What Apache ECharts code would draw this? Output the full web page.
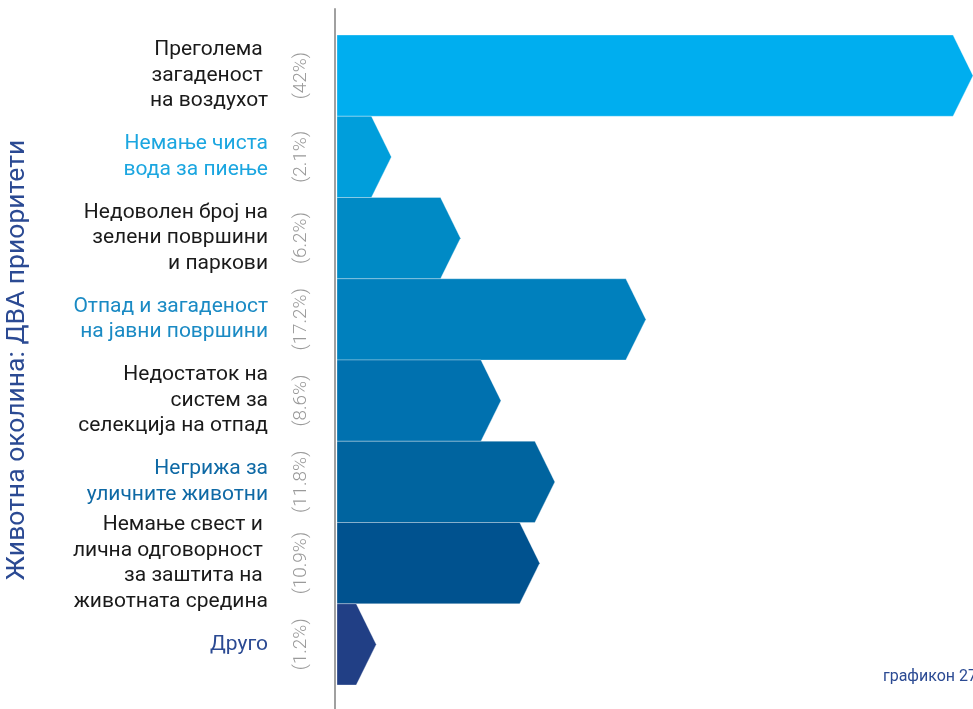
<!DOCTYPE html>
<html>
<head>
<meta charset="utf-8">
<script src="https://cdn.jsdelivr.net/npm/echarts@6/dist/echarts.min.js"></script>
<style>html,body{margin:0;padding:0;background:#fff}#c{width:973px;height:709px}</style>
</head>
<body>
<div id="c"></div>
<script>
const categories = [
  'Преголема \nзагаденост \nна воздухот',
  'Немање чиста\nвода за пиење',
  'Недоволен број на\nзелени површини\nи паркови',
  'Отпад и загаденост\nна јавни површини',
  'Недостаток на\nсистем за\nселекција на отпад',
  'Негрижа за\nуличните животни',
  'Немање свест и \nлична одговорност \nза заштита на \nживотната средина',
  'Друго'
];
const values = [42, 2.1, 6.2, 17.2, 8.6, 11.8, 10.9, 1.2];
const barColors = ['#00AEEF', '#009EDB', '#008AC5', '#0080BD', '#0071AF', '#00649F', '#00528F', '#213F85'];
const labelColors = ['#1a1a1a', '#1BA6E0', '#1a1a1a', '#1A8AC4', '#1a1a1a', '#0E69A5', '#1a1a1a', '#2B4A93'];
const titleText = 'Животна околина: ДВА приоритети';
const footText = 'графикон 27';

const chart = echarts.init(document.getElementById('c'), null, {renderer: 'canvas'});
const ARROW = 20;
chart.setOption({
  animation: false,
  backgroundColor: '#fff',
  title: {
    text: footText, right: -4, top: 669, padding: 0,
    textStyle: {fontFamily: 'Roboto', fontSize: 16, fontWeight: 'normal', color: '#2B4A93'}
  },
  grid: [
    {left: 336, right: 0, top: 35, height: 650, outerBoundsMode: 'none', containLabel: false},
    {left: 335, right: 0, top: 9, bottom: 0, outerBoundsMode: 'none', containLabel: false}
  ],
  xAxis: [
    {type: 'value', gridIndex: 0, min: 0, max: 37.8, show: false},
    {type: 'value', gridIndex: 1, show: false}
  ],
  yAxis: [
    {
      type: 'category', gridIndex: 0, inverse: true, data: categories, position: 'left',
      axisLine: {show: false}, axisTick: {show: false},
      name: titleText, nameLocation: 'middle', nameRotate: 90, nameGap: 305,
      nameTextStyle: {fontFamily: 'Roboto', fontSize: 26.5, color: '#2B4A93'},
      axisLabel: {
        margin: 68, fontFamily: 'Roboto', fontSize: 21, lineHeight: 25.5, align: 'right',
        color: (v, i) => labelColors[i]
      }
    },
    {
      type: 'category', gridIndex: 0, inverse: true, data: values.map(v => '(' + v + '%)'),
      position: 'left', offset: 0,
      axisLine: {show: false}, axisTick: {show: false},
      axisLabel: {margin: 25, rotate: 90, fontFamily: 'Roboto', fontSize: 19, fontWeight: 300, color: '#9a9a9a'}
    },
    {
      type: 'value', gridIndex: 1, min: 0, max: 1,
      axisLine: {show: true, lineStyle: {color: '#a0a0a0', width: 2}},
      axisTick: {show: false}, axisLabel: {show: false}, splitLine: {show: false}
    }
  ],
  series: [{
    type: 'custom',
    xAxisIndex: 0, yAxisIndex: 0,
    clip: false,
    data: values.map((v, i) => [v, i]),
    encode: {x: 0, y: 1},
    renderItem: function (params, api) {
      const i = params.dataIndex;
      const v = api.value(0);
      const start = api.coord([0, i]);
      const end = api.coord([v, i]);
      const h = api.size([0, 1])[1];
      const cs = params.coordSys;
      const x1 = Math.min(end[0], cs.x + cs.width - ARROW);
      const cy = start[1];
      const top = cy - h / 2, bot = cy + h / 2;
      return {
        type: 'polygon',
        shape: {points: [[start[0] + 1, top], [x1, top], [x1 + ARROW, cy], [x1, bot], [start[0] + 1, bot]]},
        style: {fill: barColors[i], stroke: 'rgba(255,255,255,0.3)', lineWidth: 1}
      };
    }
  }]
});
</script>
</body>
</html>
